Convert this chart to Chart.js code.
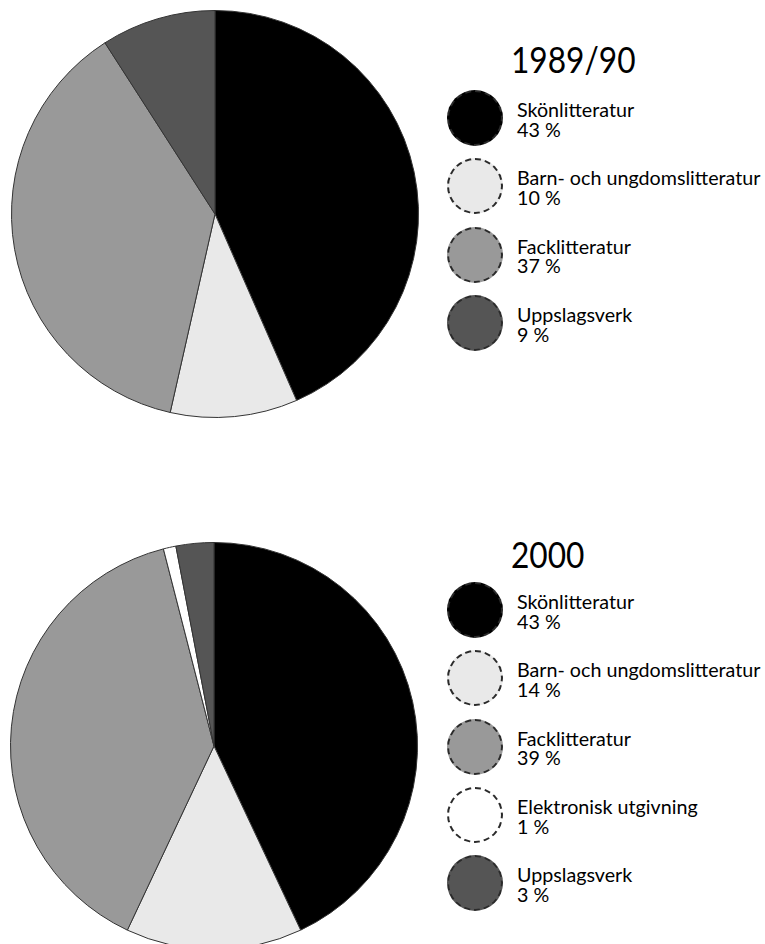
<!DOCTYPE html>
<html>
<head>
<meta charset="utf-8">
<script src="https://cdn.jsdelivr.net/npm/chart.js@4/dist/chart.umd.min.js"></script>
<style>
  html, body { margin: 0; padding: 0; background: #fff; }
  body { width: 765px; height: 944px; overflow: hidden; position: relative; font-family: Lato, "Noto Sans", sans-serif; color: #000; }
  .pie { position: absolute; }
  .legend { position: absolute; left: 447px; top: 0; width: 318px; }
  .legend .title { position: absolute; left: 64px; font-size: 36px; line-height: 36px; height: 36px; white-space: nowrap; transform: scaleX(0.88); transform-origin: left center; }
  .legend .items { position: absolute; left: 0; }
  .legend .item { display: flex; align-items: center; height: 68.3px; }
  .legend .dot { width: 52px; height: 52px; border-radius: 50%; border: 2px dashed #2a2a2a; flex: none; }
  .legend .txt { margin-left: 14px; font-size: 19.7px; line-height: 19.5px; white-space: nowrap; padding-top: 3px; }
</style>
</head>
<body>
<canvas id="c1" class="pie" width="408" height="408" style="left:11px; top:10px;"></canvas>
<div id="l1" class="legend"></div>
<canvas id="c2" class="pie" width="408" height="408" style="left:10px; top:542px;"></canvas>
<div id="l2" class="legend"></div>
<script>
// ---- data ----
const title1989 = '1989/90';
const categories1989 = ['Skönlitteratur', 'Barn- och ungdomslitteratur', 'Facklitteratur', 'Uppslagsverk'];
const values1989 = [43, 10, 37, 9];
const colors1989 = ['#000000', '#e9e9e9', '#999999', '#555555'];

const title2000 = '2000';
const categories2000 = ['Skönlitteratur', 'Barn- och ungdomslitteratur', 'Facklitteratur', 'Elektronisk utgivning', 'Uppslagsverk'];
const values2000 = [43, 14, 39, 1, 3];
const colors2000 = ['#000000', '#e9e9e9', '#999999', '#ffffff', '#555555'];

// ---- HTML legend plugin built from the chart's own legend items ----
const htmlLegend = {
  id: 'htmlLegend',
  afterUpdate(chart, args, opts) {
    const box = document.getElementById(opts.containerID);
    box.innerHTML = '';
    const t = document.createElement('div');
    t.className = 'title';
    t.style.top = opts.titleTop + 'px';
    t.textContent = opts.title;
    box.appendChild(t);
    const list = document.createElement('div');
    list.className = 'items';
    list.style.top = opts.itemsTop + 'px';
    box.appendChild(list);
    const items = chart.options.plugins.legend.labels.generateLabels(chart);
    const vals = chart.data.datasets[0].data;
    items.forEach((it, i) => {
      const row = document.createElement('div');
      row.className = 'item';
      const dot = document.createElement('div');
      dot.className = 'dot';
      dot.style.background = it.fillStyle;
      const txt = document.createElement('div');
      txt.className = 'txt';
      const a = document.createElement('div'); a.textContent = it.text;
      const b = document.createElement('div'); b.textContent = vals[i] + ' %';
      txt.appendChild(a); txt.appendChild(b);
      row.appendChild(dot); row.appendChild(txt);
      list.appendChild(row);
    });
  }
};

function makePie(id, legendId, title, labels, values, colors, titleTop, itemsTop) {
  return new Chart(document.getElementById(id), {
    type: 'pie',
    data: {
      labels: labels,
      datasets: [{
        data: values,
        backgroundColor: colors,
        borderColor: '#333333',
        borderWidth: 1,
        hoverOffset: 0
      }]
    },
    options: {
      responsive: false,
      animation: false,
      events: [],
      layout: { padding: 0 },
      plugins: {
        legend: { display: false },
        tooltip: { enabled: false },
        htmlLegend: { containerID: legendId, title: title, titleTop: titleTop, itemsTop: itemsTop }
      }
    },
    plugins: [htmlLegend]
  });
}

makePie('c1', 'l1', title1989, categories1989, values1989, colors1989, 41, 84);
makePie('c2', 'l2', title2000, categories2000, values2000, colors2000, 536, 576);
</script>
</body>
</html>
